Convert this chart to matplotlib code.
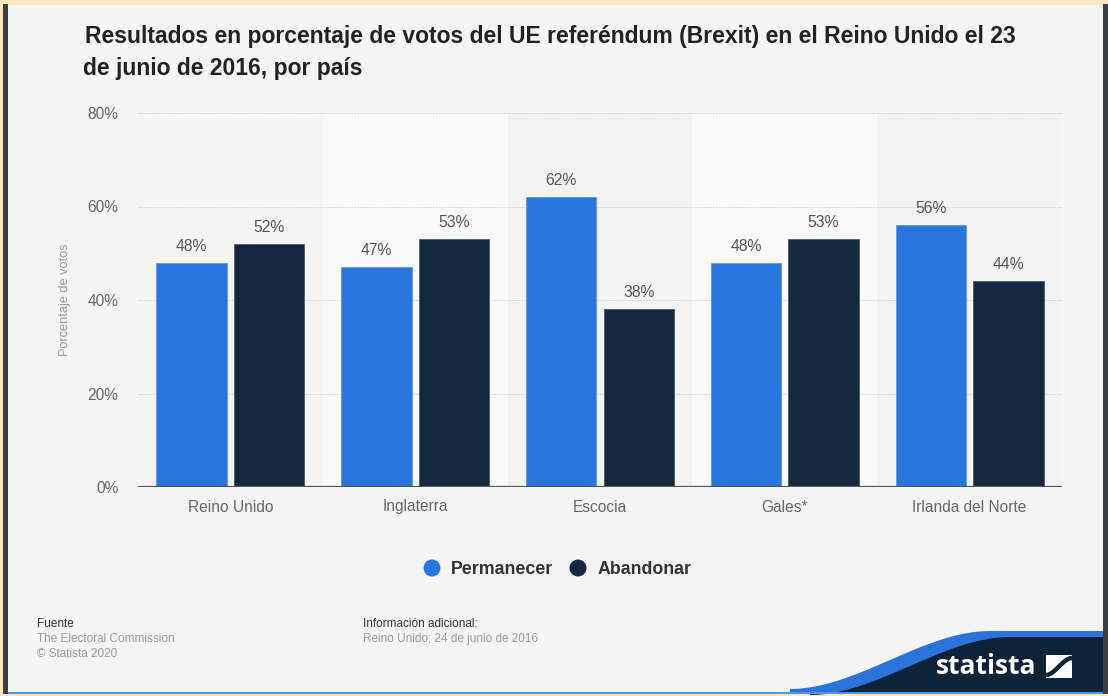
import matplotlib
matplotlib.use("Agg")
import matplotlib.pyplot as plt
import numpy as np
from matplotlib.patches import Rectangle, Polygon, Circle

plt.rcParams['font.family'] = ['Liberation Sans', 'DejaVu Sans']

paises = ["Reino Unido", "Inglaterra", "Escocia", "Gales*", "Irlanda del Norte"]
permanecer = [48, 47, 62, 48, 56]
abandonar = [52, 53, 38, 53, 44]
y_ticks = [0, 20, 40, 60, 80]

W, H = 1108, 696
fig = plt.figure(figsize=(W / 100, H / 100), dpi=100)
fig.patch.set_facecolor('#f5f5f5')

# decoration layer in pixel coords
bg = fig.add_axes([0, 0, 1, 1], zorder=0)
bg.set_xlim(0, W)
bg.set_ylim(H, 0)
bg.axis('off')
bg.add_patch(Rectangle((0, 0), W, 5, color='#fde9bd', lw=0))
bg.add_patch(Rectangle((0, 0), 3, H, color='#fde9bd', lw=0))
bg.add_patch(Rectangle((3, 4), 5, H, color='#3b3e44', lw=0))
bg.add_patch(Rectangle((1103, 4), 5, H, color='#3b3e44', lw=0))
bg.add_patch(Rectangle((0, 694), W, 2, color='#fde9bd', lw=0))

# statista wave
t = np.linspace(0, 1, 60)
s = t * t * (3 - 2 * t)
xs = 790 + 200 * t
ys = 694 - 58 * s
blue = [(790, 694)] + list(zip(xs, ys - 5)) + [(1103, 631), (1103, 694)]
navy = [(810, 694)] + list(zip(xs + 20, ys + 1)) + [(1103, 637), (1103, 694)]
bg.add_patch(Polygon(blue, closed=True, color='#2a73d9', lw=0))
bg.add_patch(Polygon(navy, closed=True, color='#0d2338', lw=0))
bg.add_patch(Rectangle((8, 692), 1095, 2, color='#4f95e6', lw=0))
bg.text(986, 667, "statista", color='white', fontsize=19, fontweight='bold',
        ha='center', va='center', family='Open Sans')
bg.add_patch(Rectangle((1046, 655), 26, 23, color='white', lw=0))
tt = np.linspace(0, 1, 40)
ss = tt * tt * (3 - 2 * tt)
bg.plot(1046 + 26 * tt, 675 - 17 * ss, color='#0d2338', lw=3.2, solid_capstyle='butt')

# title
fig.text(85 / W, 1 - 37 / H, "Resultados en porcentaje de votos del UE referéndum (Brexit) en el Reino Unido el 23",
         ha='left', va='center', fontsize=16.5, fontweight='bold', color='#222222')
fig.text(83 / W, 1 - 68 / H, "de junio de 2016, por país",
         ha='left', va='center', fontsize=16.5, fontweight='bold', color='#222222')

ax = fig.add_axes([138 / W, 1 - 487 / H, (1062 - 138) / W, (487 - 113) / H], zorder=1)
ax.set_facecolor('none')
x = np.arange(len(paises))
for i in x:
    if i % 2 == 1:
        ax.axvspan(i - 0.5, i + 0.5, ymin=0, ymax=1, color='#fafafa', lw=0, zorder=0)
    elif i > 0:
        ax.axvspan(i - 0.5, i + 0.5, ymin=0, ymax=1, color='#f3f3f3', lw=0, zorder=0)

bw = 0.38
b1 = ax.bar(x - 0.21, permanecer, bw, color='#2876dd', edgecolor='#5a9ae8', lw=0.6, zorder=3)
b2 = ax.bar(x + 0.21, abandonar, bw, color='#13283f', edgecolor='#4a5a6a', lw=0.6, zorder=3)
for bars, vals in ((b1, permanecer), (b2, abandonar)):
    for r, v in zip(bars, vals):
        ax.text(r.get_x() + r.get_width() / 2, v + 1.9, f"{v}%", ha='center', va='bottom',
                fontsize=11.3, color='#555555')

ax.set_xlim(-0.5, 4.5)
ax.set_ylim(0, 80)
ax.set_yticks(y_ticks)
ax.set_yticklabels([f"{v}%" for v in y_ticks])
ax.set_xticks(x)
ax.set_xticklabels(paises)
ax.tick_params(axis='both', length=0, labelsize=11.2, labelcolor='#666666')
ax.tick_params(axis='y', pad=14)
ax.tick_params(axis='x', pad=9)
for sp in ax.spines.values():
    sp.set_visible(False)
ax.grid(axis='y', color='#cccccc', ls=(0, (2, 1.5)), lw=0.6, zorder=1)
ax.axhline(0, color='#555555', lw=1.6, zorder=4)
ax.set_ylabel("Porcentaje de votos", fontsize=9.2, color='#999999', va='center')
ax.yaxis.set_label_coords(-0.079, 0.5)

# legend
legend_items = [("Permanecer", '#2876dd', 432, 451), ("Abandonar", '#13283f', 578, 598)]
for name, col, cx, tx in legend_items:
    bg.add_patch(Circle((cx, 568), 8.5, color=col, lw=0))
    bg.text(tx, 569, name, ha='left', va='center', fontsize=12.8, fontweight='bold', color='#333333')

# footer
bg.text(37, 624, "Fuente", fontsize=8.5, color='#333333', va='center')
bg.text(37, 639, "The Electoral Commission", fontsize=8.5, color='#999999', va='center')
bg.text(37, 654, "© Statista 2020", fontsize=8.5, color='#999999', va='center')
bg.text(363, 624, "Información adicional:", fontsize=8.5, color='#333333', va='center')
bg.text(363, 639, "Reino Unido; 24 de junio de 2016", fontsize=8.5, color='#999999', va='center')

fig.savefig("out.png", dpi=100, facecolor=fig.get_facecolor())
